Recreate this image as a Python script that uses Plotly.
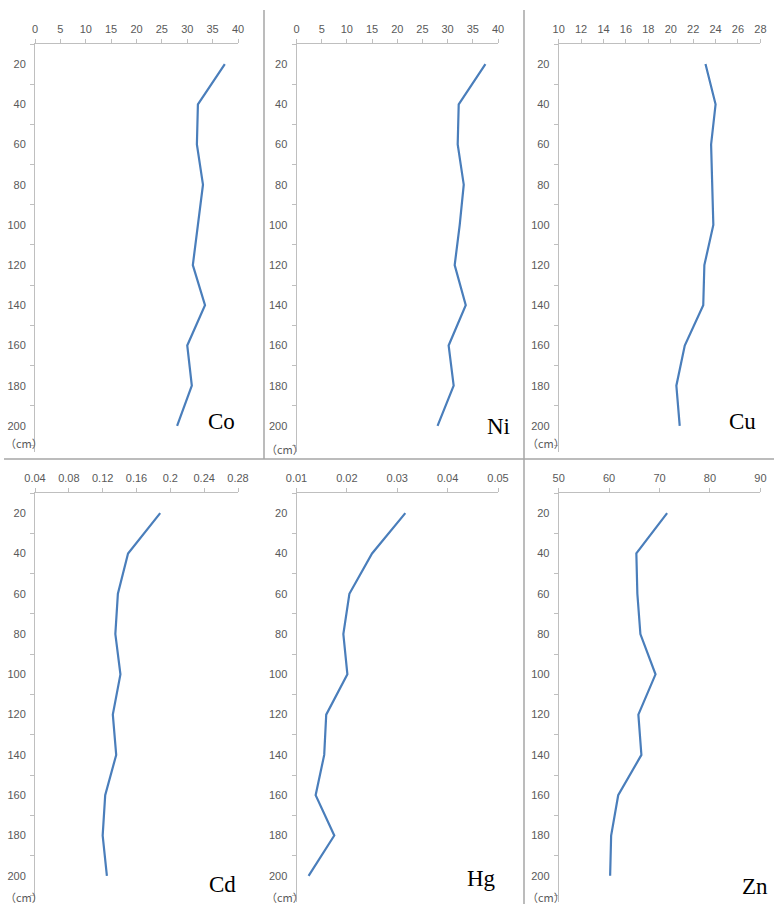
import plotly.graph_objects as go

# Sampling depths (cm)
depths = [20, 40, 60, 80, 100, 120, 140, 160, 180, 200]

# Element concentrations down the profile
co = [37.4, 32.1, 31.9, 33.1, 32.1, 31.1, 33.5, 30.0, 30.9, 28.0]
ni = [37.5, 32.2, 32.0, 33.2, 32.4, 31.4, 33.6, 30.2, 31.2, 28.0]
cu = [23.1, 24.0, 23.6, 23.7, 23.8, 23.0, 22.9, 21.25, 20.5, 20.8]
cd = [0.188, 0.150, 0.138, 0.135, 0.141, 0.132, 0.136, 0.123, 0.120, 0.125]
hg = [0.0316, 0.0250, 0.0205, 0.0193, 0.0201, 0.0159, 0.0155, 0.0138, 0.0175, 0.0124]
zn = [71.5, 65.4, 65.6, 66.2, 69.2, 65.8, 66.4, 61.8, 60.4, 60.2]

names = ["Co", "Ni", "Cu", "Cd", "Hg", "Zn"]
series = [co, ni, cu, cd, hg, zn]
x_ranges = [[0, 40], [0, 40], [10, 28], [0.04, 0.28], [0.01, 0.05], [50, 90]]
x_dticks = [5, 5, 2, 0.04, 0.01, 10]

W, H = 774, 904
LINE = "#4a7ebb"
AXIS = "#bfbfbf"
TXT = "#595959"

# pixel frames of each panel: (x0, x1, ytop, ybottom)
cols = [(35, 238), (296.5, 498), (558.7, 760.4)]
rows = [(44, 452), (493, 902)]
# label anchors for element names (x, y) in px
name_pos = [(221, 421), (498, 426), (742, 421), (222, 884), (481, 878), (755, 886)]
cm_pos = [(24, 443), (285, 449), (546, 443), (24, 897), (285, 897), (546, 897)]

fig = go.Figure()
layout = {}
for i, (nm, vals) in enumerate(zip(names, series)):
    r, c = divmod(i, 3)
    x0, x1 = cols[c]
    yt, yb = rows[r]
    k = "" if i == 0 else str(i + 1)
    fig.add_trace(go.Scatter(
        x=vals, y=depths, mode="lines",
        line=dict(color=LINE, width=2.2),
        xaxis="x" + k, yaxis="y" + k, showlegend=False, hoverinfo="skip",
    ))
    layout["xaxis" + k] = dict(
        domain=[x0 / W, x1 / W], anchor="y" + k, side="top", automargin=False,
        range=x_ranges[i], dtick=x_dticks[i], tick0=x_ranges[i][0],
        showgrid=False, zeroline=False, showline=True, linecolor=AXIS, linewidth=1,
        ticks="outside", ticklen=4, tickcolor=AXIS,
        tickfont=dict(family="Liberation Sans", size=11, color=TXT),
        ticklabelstandoff=2,
    )
    layout["yaxis" + k] = dict(
        domain=[1 - yb / H, 1 - yt / H], anchor="x" + k, automargin=False,
        range=[213, 10], tickvals=depths,
        showgrid=False, zeroline=False, showline=True, linecolor=AXIS, linewidth=1,
        ticks="outside", ticklen=0, tickcolor=AXIS,
        minor=dict(tickvals=list(range(10, 211, 20)), ticks="outside", ticklen=4,
                   tickcolor=AXIS, showgrid=False),
        tickfont=dict(family="Liberation Sans", size=11, color=TXT),
        ticklabelstandoff=6,
    )

annotations = []
for (nx, ny), nm in zip(name_pos, names):
    annotations.append(dict(
        x=nx / W, y=1 - ny / H, xref="paper", yref="paper", text=nm, showarrow=False,
        font=dict(family="Liberation Serif", size=23, color="#000000"),
        xanchor="center", yanchor="middle",
    ))
for (cx, cy) in cm_pos:
    annotations.append(dict(
        x=cx / W, y=1 - cy / H, xref="paper", yref="paper", text="（cm）", showarrow=False,
        font=dict(family="Noto Sans CJK SC", size=11, color=TXT),
        xanchor="center", yanchor="middle",
    ))

BORDER = "#a6a6a6"
shapes = [
    dict(type="line", xref="paper", yref="paper", x0=264 / W, x1=264 / W,
         y0=1 - 10 / H, y1=1 - 459 / H, line=dict(color=BORDER, width=1.5)),
    dict(type="line", xref="paper", yref="paper", x0=524 / W, x1=524 / W,
         y0=1 - 10 / H, y1=0, line=dict(color=BORDER, width=1.5)),
    dict(type="line", xref="paper", yref="paper", x0=4 / W, x1=1,
         y0=1 - 459 / H, y1=1 - 459 / H, line=dict(color=BORDER, width=1.5)),
]

fig.update_layout(
    width=W, height=H, margin=dict(l=0, r=0, t=0, b=0, autoexpand=False),
    paper_bgcolor="white", plot_bgcolor="white",
    annotations=annotations, shapes=shapes, **layout,
)
fig.write_html("out.html")
